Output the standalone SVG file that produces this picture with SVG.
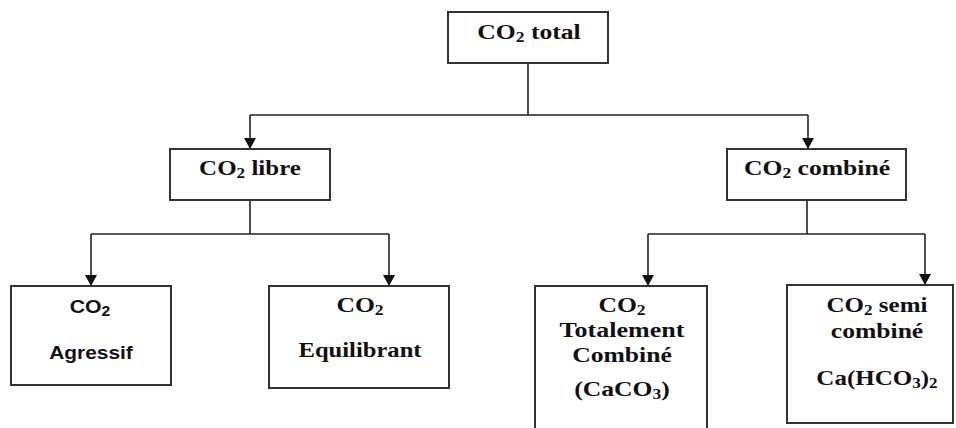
<svg xmlns="http://www.w3.org/2000/svg" width="956" height="428" viewBox="0 0 956 428">
<style>
.box{fill:#fff;stroke:#333;stroke-width:2}
.t{font-family:"Liberation Serif","Times New Roman",serif;font-weight:bold;font-size:20.5px;fill:#111;text-anchor:middle}
.s{font-family:"Liberation Sans",Arial,sans-serif;font-weight:bold;font-size:19px;fill:#111;text-anchor:middle}
.sub{font-size:14px}
.ln{fill:none;stroke:#222;stroke-width:1.6}
</style>
<defs>
<marker id="arr" viewBox="0 0 11 12" refX="11" refY="6" markerWidth="11" markerHeight="12" markerUnits="userSpaceOnUse" orient="auto">
<path d="M0,0 L11,6 L0,12 z" fill="#111"/>
</marker>
</defs>
<rect width="956" height="428" fill="#fff"/>
<g id="connectors">
<path class="ln" d="M528,63 V115"/>
<path class="ln" d="M250,115 H808"/>
<path class="ln" d="M250,115 V149" marker-end="url(#arr)"/>
<path class="ln" d="M808,115 V149" marker-end="url(#arr)"/>
<path class="ln" d="M250,200 V234"/>
<path class="ln" d="M91,234 H389"/>
<path class="ln" d="M91,234 V286" marker-end="url(#arr)"/>
<path class="ln" d="M389,234 V286" marker-end="url(#arr)"/>
<path class="ln" d="M807,200 V234"/>
<path class="ln" d="M648,234 H925"/>
<path class="ln" d="M648,234 V286" marker-end="url(#arr)"/>
<path class="ln" d="M925,234 V285" marker-end="url(#arr)"/>
</g>
<g id="co2-total">
<rect class="box" x="448" y="12" width="160" height="51"/>
<text class="t" transform="translate(529,39) scale(1.25,1)">CO<tspan class="sub" dy="3">2</tspan><tspan dy="-3"> total</tspan></text>
</g>
<g id="co2-libre">
<rect class="box" x="170" y="149" width="160" height="51"/>
<text class="t" transform="translate(250,175) scale(1.22,1)">CO<tspan class="sub" dy="3">2</tspan><tspan dy="-3"> libre</tspan></text>
</g>
<g id="co2-combine">
<rect class="box" x="727" y="149" width="179" height="51"/>
<text class="t" transform="translate(817,175) scale(1.25,1)">CO<tspan class="sub" dy="3">2</tspan><tspan dy="-3"> combiné</tspan></text>
</g>
<g id="co2-agressif">
<rect class="box" x="11" y="286" width="160" height="99"/>
<text class="s" transform="translate(90,313) scale(1.12,1)">CO<tspan class="sub" dy="3">2</tspan></text>
<text class="s" transform="translate(91,359) scale(1.1,1)">Agressif</text>
</g>
<g id="co2-equilibrant">
<rect class="box" x="269" y="286" width="180" height="102"/>
<text class="t" transform="translate(360,312) scale(1.25,1)">CO<tspan class="sub" dy="3">2</tspan></text>
<text class="t" transform="translate(360,357) scale(1.2,1)">Equilibrant</text>
</g>
<g id="co2-totalement">
<rect class="box" x="535" y="286" width="172" height="150"/>
<text class="t" transform="translate(622,312) scale(1.25,1)">CO<tspan class="sub" dy="3">2</tspan></text>
<text class="t" transform="translate(622,337) scale(1.27,1)">Totalement</text>
<text class="t" transform="translate(622,362) scale(1.25,1)">Combiné</text>
<text class="t" transform="translate(622,396) scale(1.25,1)">(CaCO<tspan class="sub" dy="3">3</tspan><tspan dy="-3">)</tspan></text>
</g>
<g id="co2-semi">
<rect class="box" x="787" y="285" width="166" height="138"/>
<text class="t" transform="translate(877,312) scale(1.22,1)">CO<tspan class="sub" dy="3">2</tspan><tspan dy="-3"> semi</tspan></text>
<text class="t" transform="translate(877,338) scale(1.25,1)">combiné</text>
<text class="t" transform="translate(877,385) scale(1.22,1)">Ca(HCO<tspan class="sub" dy="3">3</tspan><tspan dy="-3">)</tspan><tspan class="sub" dy="3">2</tspan></text>
</g>
</svg>
